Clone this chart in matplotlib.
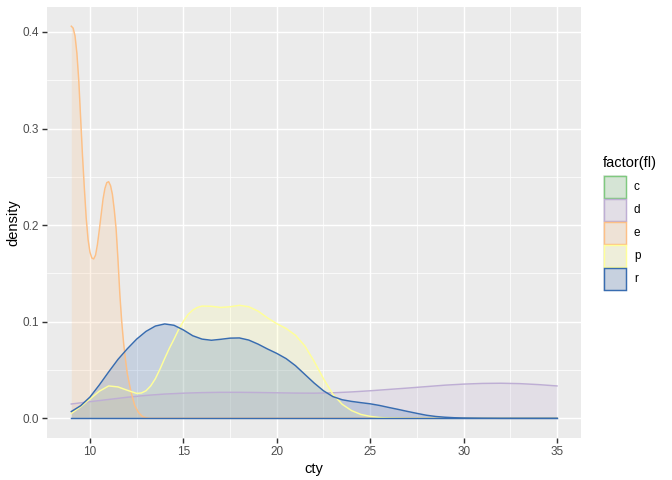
import numpy as np
import matplotlib
matplotlib.use("Agg")
import matplotlib.pyplot as plt
from matplotlib.patches import Rectangle

plt.rcParams['font.family'] = ['Liberation Sans', 'DejaVu Sans']

# density curves (cty vs density), per fuel type
groups = ['c', 'd', 'e', 'p', 'r']
colors = ['#7FC97F', '#BEAED4', '#FDC086', '#FFFF99', '#386CB0']

d_x = [9, 10, 11, 12, 13, 14, 15, 16, 17, 18, 19, 20, 21, 22, 23, 24, 25, 26, 27, 28, 29, 30, 31, 32, 33, 34, 35]
d_y = [0.0148, 0.0172, 0.0195, 0.0218, 0.0237, 0.0251, 0.0260, 0.0266, 0.0269, 0.0269, 0.0267, 0.0264,
       0.0261, 0.0260, 0.0264, 0.0273, 0.0285, 0.0299, 0.0313, 0.0328, 0.0343, 0.0354, 0.0361, 0.0363,
       0.0359, 0.0349, 0.0335]

e_x = [9.0, 9.1, 9.2, 9.3, 9.4, 9.5, 9.6, 9.7, 9.8, 9.9, 10.0, 10.1, 10.2, 10.3, 10.4, 10.5, 10.6, 10.7,
       10.8, 10.9, 11.0, 11.1, 11.2, 11.3, 11.4, 11.5, 11.6, 11.7, 11.8, 11.9, 12.0, 12.2, 12.4, 12.6,
       12.8, 13.0, 13.2, 35.0]
e_y = [0.406, 0.404, 0.396, 0.378, 0.350, 0.311, 0.272, 0.238, 0.207, 0.185, 0.172, 0.166, 0.165, 0.169,
       0.180, 0.195, 0.211, 0.227, 0.238, 0.244, 0.245, 0.241, 0.232, 0.216, 0.196, 0.164, 0.128, 0.100,
       0.078, 0.061, 0.046, 0.027, 0.013, 0.006, 0.002, 0.0005, 0.0, 0.0]

p_x = [9.0, 9.5, 10.0, 10.5, 11.0, 11.5, 12.0, 12.5, 12.75, 13.0, 13.25, 13.5, 13.75, 14.0, 14.25, 14.5,
       14.75, 15.0, 15.25, 15.5, 15.75, 16.0, 16.5, 17.0, 17.5, 18.0, 18.5, 19.0, 19.5, 20.0, 20.5, 21.0,
       21.5, 22.0, 22.5, 23.0, 23.5, 24.0, 24.5, 25.0, 25.5, 26.0, 27.0, 35.0]
p_y = [0.005, 0.012, 0.020, 0.028, 0.0335, 0.0325, 0.029, 0.0258, 0.0262, 0.0285, 0.0335, 0.041, 0.051,
       0.062, 0.0725, 0.082, 0.092, 0.1005, 0.1075, 0.112, 0.1148, 0.1162, 0.116, 0.1148, 0.1155, 0.117,
       0.1155, 0.111, 0.104, 0.098, 0.093, 0.086, 0.075, 0.059, 0.041, 0.025, 0.0145, 0.008, 0.004, 0.002,
       0.0008, 0.0003, 0.0, 0.0]

r_x = [9.0, 9.5, 10.0, 10.5, 11.0, 11.5, 12.0, 12.5, 13.0, 13.5, 14.0, 14.5, 15.0, 15.5, 16.0, 16.5,
       17.0, 17.5, 18.0, 18.5, 19.0, 19.5, 20.0, 20.5, 21.0, 21.5, 22.0, 22.5, 23.0, 23.5, 24.0, 24.5,
       25.0, 25.5, 26.0, 26.5, 27.0, 27.5, 28.0, 28.5, 29.0, 29.5, 30.0, 31.0, 32.0, 35.0]
r_y = [0.007, 0.013, 0.022, 0.0345, 0.048, 0.061, 0.072, 0.082, 0.090, 0.0955, 0.0977, 0.0963, 0.0915,
       0.0855, 0.082, 0.0808, 0.0818, 0.083, 0.0832, 0.081, 0.0768, 0.0718, 0.0672, 0.0618, 0.0545, 0.0455,
       0.0365, 0.0285, 0.0225, 0.0192, 0.0175, 0.0162, 0.015, 0.0133, 0.0112, 0.0092, 0.0071, 0.0051,
       0.0032, 0.0019, 0.0011, 0.0006, 0.0003, 0.0001, 0.0, 0.0]

curves = {'d': (d_x, d_y), 'e': (e_x, e_y), 'p': (p_x, p_y), 'r': (r_x, r_y)}

W, H = 672, 480
fig = plt.figure(figsize=(W / 96, H / 96), dpi=96)
ax = fig.add_axes([47 / W, 1 - 437.9 / H, (581.3 - 47) / W, (437.9 - 6.6) / H])
ax.set_facecolor('#EBEBEB')
for s in ax.spines.values():
    s.set_visible(False)

all_x = np.concatenate([np.array(v[0]) for v in curves.values()])
all_y = np.concatenate([np.array(v[1]) for v in curves.values()])
xr = all_x.max() - all_x.min()
yr = all_y.max() - 0
ax.set_xlim(all_x.min() - 0.05 * xr, all_x.max() + 0.05 * xr)
ax.set_ylim(-0.05 * yr, all_y.max() + 0.05 * yr)

ax.set_xticks([10, 15, 20, 25, 30, 35])
ax.set_xticks([12.5, 17.5, 22.5, 27.5, 32.5], minor=True)
ax.set_yticks([0.0, 0.1, 0.2, 0.3, 0.4])
ax.set_yticks([0.05, 0.15, 0.25, 0.35], minor=True)
ax.set_yticklabels(['0.0', '0.1', '0.2', '0.3', '0.4'])
ax.grid(which='major', color='white', linewidth=1.07)
ax.grid(which='minor', color='white', linewidth=0.53)
ax.set_axisbelow(True)
ax.tick_params(which='major', length=3.7, width=1.07, color='#333333', labelcolor='#4D4D4D',
               labelsize=8.8, pad=2.2)
ax.tick_params(which='minor', length=0)

for g, col in zip(groups, colors):
    if g not in curves:
        continue
    x, y = curves[g]
    ax.fill_between(x, 0, y, color=col, alpha=0.2, linewidth=0, zorder=2)
    ax.plot(x, y, color=col, linewidth=1.1, zorder=3, solid_joinstyle='round')

# line along zero
ax.plot([all_x.min(), all_x.max()], [0, 0], color=colors[-1], linewidth=1.1, zorder=3)

ax.set_xlabel('cty', fontsize=11, labelpad=3)
ax.set_ylabel('density', fontsize=11, labelpad=2)

# legend drawn by hand
fig.text(603 / W, 1 - 163.5 / H, 'factor(fl)', fontsize=11, va='center', ha='left')
for i, (g, col) in enumerate(zip(groups, colors)):
    top = 175.5 + i * 23.04
    fig.add_artist(Rectangle((603 / W, 1 - (top + 23.04) / H), 23.04 / W, 23.04 / H,
                             transform=fig.transFigure, facecolor='#EBEBEB', edgecolor='none'))
    fig.add_artist(Rectangle((604 / W, 1 - (top + 22.3) / H), 21.5 / W, 21.5 / H,
                             transform=fig.transFigure, facecolor=col, alpha=0.2, edgecolor='none'))
    fig.add_artist(Rectangle((604 / W, 1 - (top + 22.3) / H), 21.5 / W, 21.5 / H,
                             transform=fig.transFigure, facecolor='none', edgecolor=col, linewidth=1.1))
    fig.text(634 / W, 1 - (top + 11.5) / H, g, fontsize=8.8, va='center', ha='left')

fig.savefig('out.png', dpi=96)
